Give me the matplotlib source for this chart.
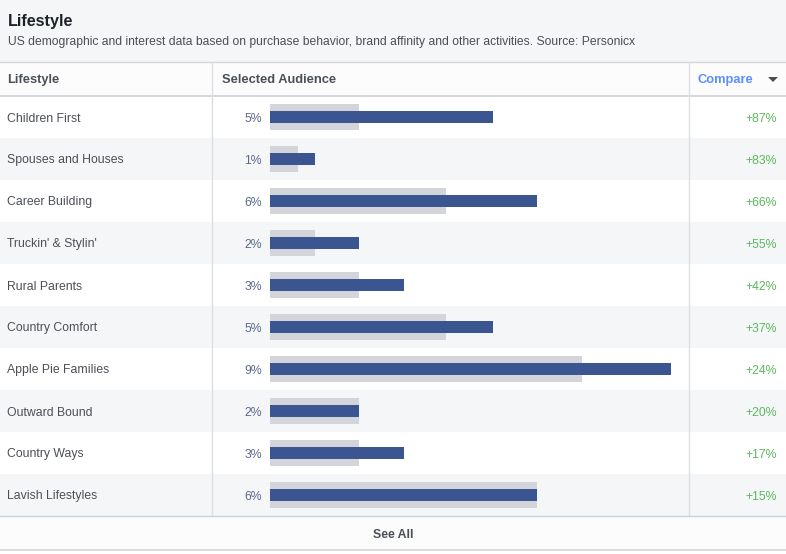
import matplotlib
matplotlib.use("Agg")
import matplotlib.pyplot as plt
from matplotlib.patches import Rectangle, Polygon

categories = ["Children First", "Spouses and Houses", "Career Building", "Truckin' & Stylin'",
              "Rural Parents", "Country Comfort", "Apple Pie Families", "Outward Bound",
              "Country Ways", "Lavish Lifestyles"]
selected = [5, 1, 6, 2, 3, 5, 9, 2, 3, 6]
baseline = [2, 0.63, 3.95, 1, 2, 3.95, 7, 2, 2, 6]
compare_labels = ["+87%", "+83%", "+66%", "+55%", "+42%", "+37%", "+24%", "+20%", "+17%", "+15%"]
selected_labels = [f"{v}%" for v in selected]

W, H = 786, 554
plt.rcParams['font.family'] = ['Liberation Sans', 'DejaVu Sans']
fig = plt.figure(figsize=(W / 100, H / 100), dpi=100)
fig.patch.set_facecolor("white")

bg = fig.add_axes([0, 0, 1, 1])
bg.set_xlim(0, W)
bg.set_ylim(H, 0)
bg.axis("off")

TEXT = "#4b4f56"
LINE = "#dddfe2"
ROW_TOP, ROW_H = 96, 42
n = len(categories)
rows_bottom = ROW_TOP + ROW_H * n
DY = 1.5  # visual centering offset

# title area
bg.add_patch(Rectangle((0, 0), W, 62, facecolor="#f5f6f7", edgecolor="none"))
bg.text(8, 20 + DY, "Lifestyle", fontsize=11.6, fontweight="bold", color="#1d2129", va="center")
bg.text(8, 40 + DY, "US demographic and interest data based on purchase behavior, brand affinity and other activities. Source: Personicx",
        fontsize=8.75, color=TEXT, va="center")

# header
bg.add_patch(Rectangle((0, 62), W, 34, facecolor="#fcfcfd", edgecolor="none"))
bg.plot([0, W], [62, 62], color="#d3d6db", lw=1)
bg.plot([0, W], [96, 96], color="#ccd0d5", lw=1.2)
bg.text(7, 78.5 + DY, "Lifestyle", fontsize=9.3, fontweight="bold", color=TEXT, va="center")
bg.text(222, 78.5 + DY, "Selected Audience", fontsize=9.3, fontweight="bold", color=TEXT, va="center")
bg.text(698, 78.5 + DY, "Compare", fontsize=9.3, fontweight="bold", color="#5890ff", va="center")
bg.add_patch(Polygon([[768, 77], [778, 77], [773, 82]], closed=True, facecolor="#4b4f56", edgecolor="none"))

# rows
for i, cat in enumerate(categories):
    top = ROW_TOP + i * ROW_H
    cy = top + ROW_H / 2 + DY
    if i % 2 == 1:
        bg.add_patch(Rectangle((0, top), W, ROW_H, facecolor="#f5f6f8", edgecolor="none"))
    bg.text(7, cy, cat, fontsize=8.8, color=TEXT, va="center")
    bg.text(262, cy, selected_labels[i], fontsize=8.8, color="#5b6987", va="center", ha="right")
    bg.text(777, cy, compare_labels[i], fontsize=8.8, color="#5cb85c", va="center", ha="right")

bg.plot([212, 212], [62, rows_bottom], color=LINE, lw=1)
bg.plot([689, 689], [62, rows_bottom], color=LINE, lw=1)
bg.plot([0, W], [rows_bottom, rows_bottom], color="#ccd0d5", lw=1)

# see all
bg.add_patch(Rectangle((0, rows_bottom + 0.5), W, 34, facecolor="#fcfcfd", edgecolor="none"))
bg.text(393, rows_bottom + 17 + DY, "See All", fontsize=8.8, fontweight="bold", color=TEXT, va="center", ha="center")
bg.plot([0, W], [550, 550], color="#d3d6db", lw=1.2)

# bar axes
PX_PER_PCT = 44.5
bx0, bx1 = 270, 689
ax = fig.add_axes([bx0 / W, 1 - rows_bottom / H, (bx1 - bx0) / W, (ROW_H * n) / H])
ax.patch.set_alpha(0)
ax.set_xlim(0, (bx1 - bx0) / PX_PER_PCT)
ax.set_ylim(n - 0.5, -0.5)
ax.axis("off")
ypos = list(range(n))
ax.barh(ypos, baseline, height=26 / ROW_H, color="#d3d5da", edgecolor="none")
ax.barh(ypos, selected, height=12 / ROW_H, color="#3b5591", edgecolor="none")

fig.savefig("out.png", dpi=100)
